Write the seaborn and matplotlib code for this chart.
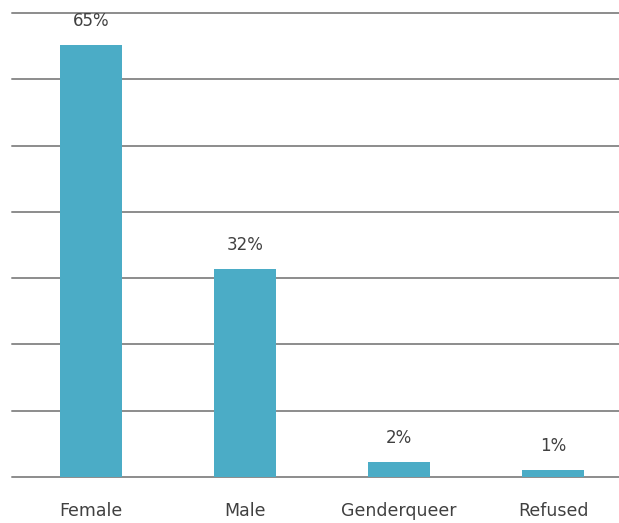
import numpy as np
import pandas as pd
import matplotlib
matplotlib.use('Agg')
import matplotlib.pyplot as plt
import seaborn as sns

categories = ['Female', 'Male', 'Genderqueer', 'Refused']
values = [65.2, 31.4, 2.3, 1.1]
labels = ['65%', '32%', '2%', '1%']

df = pd.DataFrame({'gender': categories, 'pct': values})

sns.set_style('white')
plt.rcParams['font.family'] = ['DejaVu Sans']

fig = plt.figure(figsize=(6.19, 5.23), dpi=100)
# axes runs a bit past the right edge like in the original screenshot
ax = fig.add_axes([14 / 619, 46 / 523, 616 / 619, 464 / 523])

sns.barplot(data=df, x='gender', y='pct', color='#4bacc6', width=0.4,
            saturation=1, linewidth=0, ax=ax, zorder=3)

# horizontal gridlines every 10%, starting at the left edge of the plot area
for yv in np.arange(0, 71, 10):
    ax.plot([-0.515, 3.5], [yv, yv], color='#8c8c8c', lw=1.4, zorder=1,
            clip_on=False)

for i, (v, lab) in enumerate(zip(values, labels)):
    ax.text(i, v + 2.2, lab, ha='center', va='bottom', fontsize=12,
            color='#404040', clip_on=False)

ax.set_xlim(-0.5, 3.5)
ax.set_ylim(0, 70)
ax.set_yticks([])
ax.set_xlabel('')
ax.set_ylabel('')
ax.tick_params(axis='x', length=0, pad=18, labelsize=12.5, labelcolor='#404040')
for s in ax.spines.values():
    s.set_visible(False)

fig.savefig('out.png', dpi=100)
